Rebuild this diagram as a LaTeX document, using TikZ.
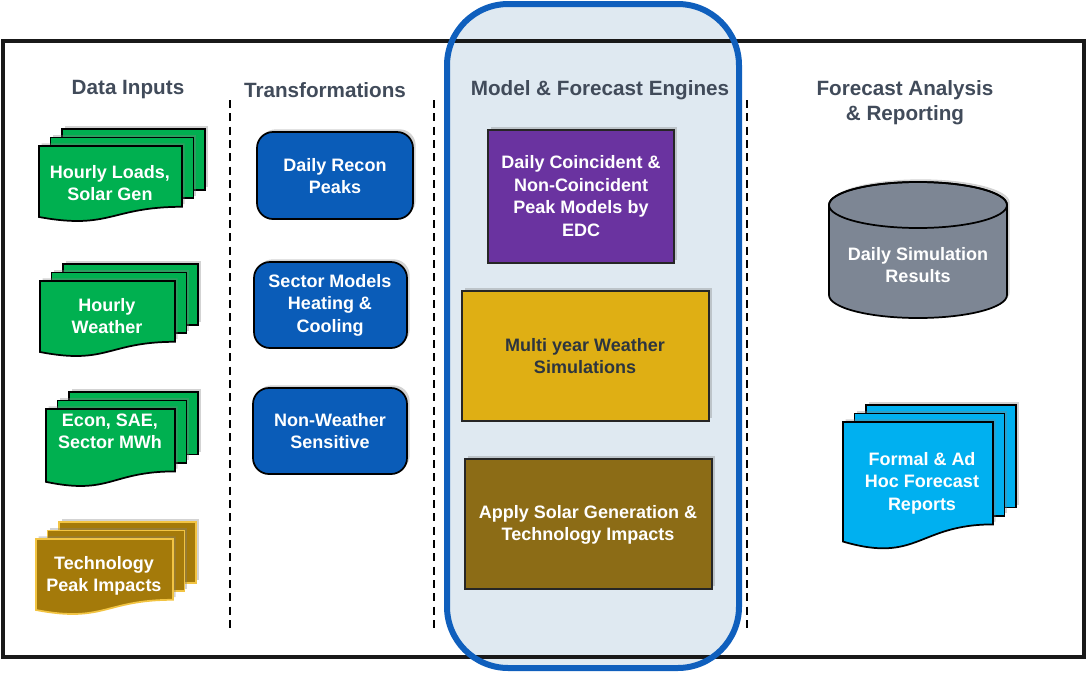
\documentclass[tikz,border=0pt]{standalone}
\usepackage{fontspec}
\setmainfont{Liberation Sans}
\usetikzlibrary{shadows}

\definecolor{hdrgray}{HTML}{414B5A}
\definecolor{docgreen}{HTML}{00B050}
\definecolor{docgold}{HTML}{A47A0A}
\definecolor{goldline}{HTML}{F2C443}
\definecolor{trblue}{HTML}{0A5CB8}
\definecolor{mdpurple}{HTML}{6A33A0}
\definecolor{mdyellow}{HTML}{DFAF14}
\definecolor{mdbrown}{HTML}{8C6C16}
\definecolor{cylgray}{HTML}{7D8694}
\definecolor{rptblue}{HTML}{00B0F0}
\definecolor{panelfill}{HTML}{DFE9F1}
\definecolor{panelline}{HTML}{0F5FBD}

\tikzset{every picture/.style={line width=0.75pt}}
\tikzset{
  header/.style={font=\bfseries\fontsize{15.5}{19}\selectfont, text=hdrgray, align=center, inner sep=0.75pt},
  boxtext/.style={font=\bfseries\fontsize{13.5}{16.8}\selectfont, text=white, align=center, inner sep=0.75pt},
  shade/.style={drop shadow={opacity=0.35, shadow xshift=2pt, shadow yshift=2pt}},
  colsep/.style={dash pattern={on 6pt off 4pt}, line width=1.1pt},
  tbox/.style={fill=trblue, draw=black, line width=1.3, rounded corners=12, shade},
  mbox/.style={draw=black!85, line width=1.3, shade},
}

% stack of three pages with a wavy bottom: x, y, width, height, fill, line
\newcommand{\docstack}[6]{%
  \foreach \k in {2,1} {
    \draw[draw=#6, fill=#5, line width=1.3, shade] ({#1+11.5*\k},{#2-8.5*\k}) rectangle ({#1+#3+11.5*\k},{#2+0.8*#4-8.5*\k});
  }
  \draw[draw=#6, fill=#5, line width=1.3, shade] (#1,#2) -- ({#1+#3},#2) -- ({#1+#3},{#2+0.8*#4}) .. controls ({#1+0.5*#3},{#2+0.8*#4}) and ({#1+0.5*#3},{#2+1.107*#4}) .. (#1,{#2+0.934*#4}) -- cycle;
}

\begin{document}
\begin{tikzpicture}[x=0.75pt,y=0.75pt,yscale=-1,xscale=1]
	\useasboundingbox (0,0) rectangle (1086,672);

	%Panel fill behind the engines column
	\fill [panelfill] (447,4) [rounded corners=46] rectangle (739,668);
	%Outer frame
	\draw [line width=2.6, black!90] (3,41) rectangle (1084,657);
	%Panel border
	\draw [panelline, line width=4.5] (447,4) [rounded corners=46] rectangle (739,668);

	%Column separators
	\draw [colsep]  (230,100) -- (230,632) ;
	\draw [colsep]  (434,100) -- (434,632) ;
	\draw [colsep]  (747,100) -- (747,630) ;

	% Headers
	\node [header] (hdata) at (128,90) {Data Inputs};
	\node [header] (htrans) at (325,90) {Transformations};
	\node [header] (hmodel) at (600,90) {Model \& Forecast Engines};
	\node [header] (hreport) at (905,103) {Forecast Analysis\\\& Reporting};

	%Data inputs
	\docstack{39}{146}{143}{76}{docgreen}{black}
	\node [boxtext] (loads) at (110,183) {Hourly Loads,\\Solar Gen};
	\docstack{40}{281}{135}{76}{docgreen}{black}
	\node [boxtext] (weather) at (107,316) {Hourly\\Weather};
	\docstack{46}{409}{129}{78}{docgreen}{black}
	\node [boxtext] (econ) at (110,431) {Econ, SAE,\\Sector MWh};
	\docstack{36}{539}{137}{76}{docgreen!0!docgold}{goldline}
	\node [boxtext] (tech) at (104,576) {Technology\\Peak Impacts};

	%Transformations
	\draw [tbox] (257,132) rectangle (413,219);
	\node [boxtext] (recon) at (335,176) {Daily Recon\\Peaks};
	\draw [tbox] (254,262) rectangle (407,348);
	\node [boxtext] (sector) at (330,305) {Sector Models\\Heating \&\\Cooling};
	\draw [tbox] (253,388) rectangle (407,474);
	\node [boxtext] (nonwx) at (330,431) {Non-Weather\\Sensitive};

	%Model and forecast engines
	\draw [mbox, fill=mdpurple] (488,130) rectangle (674,263);
	\node [boxtext] (peak) at (581,196) {Daily Coincident \&\\Non-Coincident\\Peak Models by\\EDC};
	\draw [mbox, fill=mdyellow] (462,291) rectangle (709,421);
	\node [boxtext, text=hdrgray!70!black] (multi) at (585,356) {Multi year Weather\\Simulations};
	\draw [mbox, fill=mdbrown] (465,459) rectangle (712,589);
	\node [boxtext] (solar) at (588,525) {Apply Solar Generation \&\\Technology Impacts};

	%Cylinder
	\draw [fill=cylgray, draw=black, line width=1.3, shade] (829,205) -- (829,295) arc [start angle=180, end angle=0, x radius=89, y radius=23] -- (1007,205) arc [start angle=0, end angle=-180, x radius=89, y radius=23] -- cycle ;
	\draw [draw=black, line width=1.3] (918,205) ellipse [x radius=89, y radius=23];
	\node [boxtext] (dailysim) at (918,265) {Daily Simulation\\Results};

	%Reports
	\docstack{843}{422}{150}{128}{rptblue}{black}
	\node [boxtext] (reports) at (922,483) {Formal \& Ad\\Hoc Forecast\\Reports};
\end{tikzpicture}
\end{document}
